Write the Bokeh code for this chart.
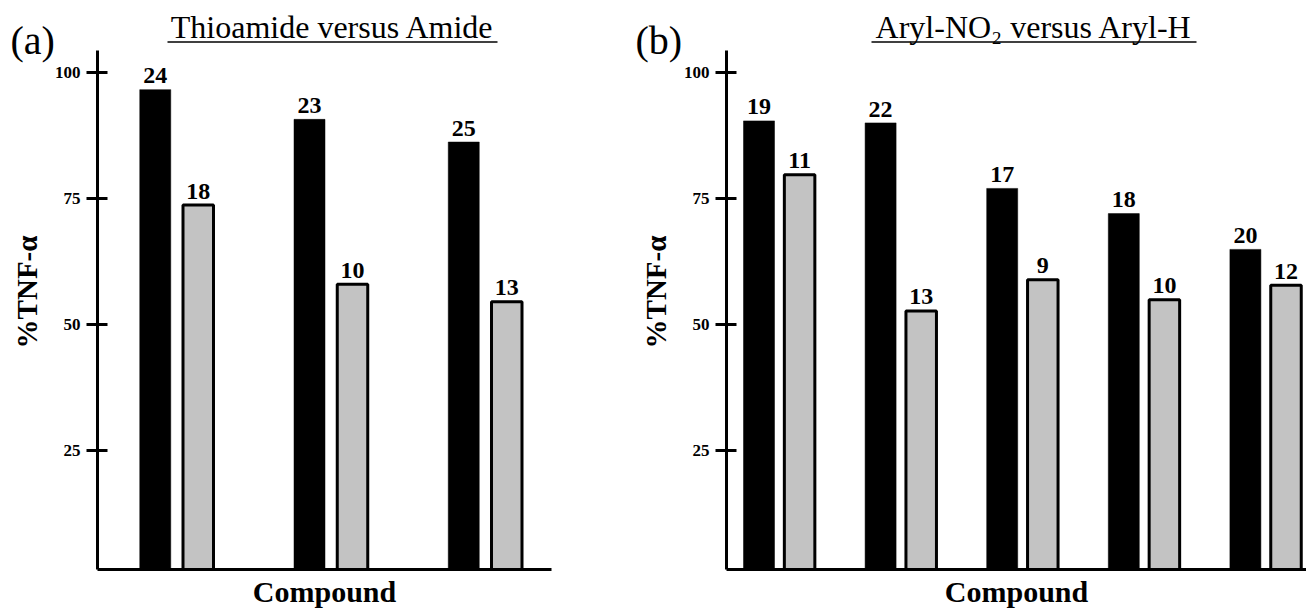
from bokeh.plotting import figure
from bokeh.layouts import row
from bokeh.models import Range1d, FixedTicker
from bokeh.embed import file_html
from bokeh.resources import INLINE
from bokeh.core.properties import value

# ---------------- data ----------------
a_groups = [1, 2, 3]
a_thioamide_ids = ["24", "23", "25"]
a_thioamide_tnf = [96.6, 90.7, 86.2]
a_amide_ids = ["18", "10", "13"]
a_amide_tnf = [73.7, 58.0, 54.5]

b_groups = [1, 2, 3, 4, 5]
b_no2_ids = ["19", "22", "17", "18", "20"]
b_no2_tnf = [90.4, 90.0, 77.0, 72.0, 64.9]
b_h_ids = ["11", "13", "9", "10", "12"]
b_h_tnf = [79.7, 52.7, 58.9, 54.9, 57.8]

y_ticks = [25, 50, 75, 100]

# ---------------- style / layout ----------------
FONT = "Liberation Serif"
GRAY = "#c3c3c3"
H = 612
PXU_Y = 5.04      # pixels per % unit
Y100 = 72         # pixel row of the 100 tick
BASE_PX = 569     # pixel row of the x axis
TOP_PX = 50       # pixel row of the top of the y axis
LABEL_TOP_PX = 14 # sets the centre of the y-axis title
SHIFT = 0.35      # baseline compensation (fraction of font size)
TICK_IN = 10      # tick length inside the spine (px)
TICK_OUT = 11     # tick length outside the spine (px)


def yv(py):
    return 100 - (py - Y100) / PXU_Y


def build(groups, dark_vals, dark_ids, light_vals, light_ids, *, left_px, width,
          axis_px, first_px, step_px, dodge_px, dark_w_px, light_w_px,
          title, title_px, title_w_px, tag, tag_px, right_px):
    def xd(px):
        return 1 + (px - first_px) / step_px

    x_start = xd(left_px)
    x_end = xd(left_px + width)
    base = yv(BASE_PX)
    p = figure(width=width, height=H, x_range=Range1d(x_start, x_end),
               y_range=Range1d(yv(H), yv(0)), output_backend="svg",
               toolbar_location=None, min_border=0)
    p.grid.visible = False
    p.outline_line_color = None
    p.background_fill_color = "white"
    p.border_fill_color = "white"

    dodge = dodge_px / step_px
    dark_x = [g - dodge for g in groups]
    light_x = [g + dodge for g in groups]
    p.vbar(x=dark_x, top=dark_vals, bottom=base, width=dark_w_px / step_px,
           fill_color="black", line_color="black", line_width=0.5)
    p.vbar(x=light_x, top=light_vals, bottom=base, width=light_w_px / step_px,
           fill_color=GRAY, line_color="black", line_width=3)

    lab_fs = 24
    gap = (5.5 + SHIFT * lab_fs) / PXU_Y
    for xs, vals, ids in ((dark_x, dark_vals, dark_ids), (light_x, light_vals, light_ids)):
        p.text(x=xs, y=[v + gap for v in vals], text=ids,
               text_align="center", text_baseline="alphabetic",
               text_font=value(FONT), text_font_size=f"{lab_fs}px",
               text_font_style="bold", text_color="black")

    # title with underline
    p.text(x=[xd(title_px)], y=[yv(38 - SHIFT * 32)], text=[title], text_align="center",
           text_baseline="alphabetic", text_font=value(FONT), text_font_size="32px",
           text_color="black")
    p.segment(x0=[xd(title_px - title_w_px / 2)], y0=[yv(41.5)],
              x1=[xd(title_px + title_w_px / 2)], y1=[yv(41.5)],
              line_color="black", line_width=1.5)

    # panel tag
    p.text(x=[xd(tag_px)], y=[yv(54 - SHIFT * 40)], text=[tag], text_align="left",
           text_baseline="alphabetic", text_font=value(FONT), text_font_size="40px",
           text_color="black")

    ax_x = xd(axis_px)
    # y axis spine
    p.segment(x0=[ax_x], y0=[base], x1=[ax_x], y1=[yv(TOP_PX)],
              line_color="black", line_width=3)

    ya = p.yaxis[0]
    # axis anchored TICK_IN px right of the spine so its ticks cross the spine
    ya.fixed_location = xd(axis_px + TICK_IN)
    ya.ticker = FixedTicker(ticks=y_ticks)
    ya.bounds = (base, yv(LABEL_TOP_PX))
    ya.axis_line_color = None
    ya.major_tick_in = 0
    ya.major_tick_out = TICK_IN + TICK_OUT
    ya.major_tick_line_width = 3
    ya.major_tick_line_color = "black"
    ya.minor_tick_line_color = None
    ya.major_label_text_font = FONT
    ya.major_label_text_font_size = "17px"
    ya.major_label_text_font_style = "bold"
    ya.major_label_text_color = "black"
    ya.major_label_standoff = 6
    ya.axis_label = "%TNF-α"
    ya.axis_label_text_font = FONT
    ya.axis_label_text_font_size = "29px"
    ya.axis_label_text_font_style = "bold"
    ya.axis_label_text_color = "black"
    ya.axis_label_standoff = 9

    xa = p.xaxis[0]
    xa.fixed_location = base
    xa.ticker = FixedTicker(ticks=[])
    xa.bounds = (ax_x, xd(right_px))
    xa.axis_line_width = 3
    xa.axis_line_color = "black"
    xa.major_tick_in = 0
    xa.major_tick_out = 0
    xa.minor_tick_line_color = None
    xa.major_label_standoff = 0
    xa.axis_label = "Compound"
    xa.axis_label_text_font = FONT
    xa.axis_label_text_font_size = "30px"
    xa.axis_label_text_font_style = "bold"
    xa.axis_label_text_color = "black"
    xa.axis_label_standoff = 5
    return p


pa = build(a_groups, a_thioamide_tnf, a_thioamide_ids, a_amide_tnf, a_amide_ids,
           left_px=0, width=560, axis_px=97, first_px=176.25, step_px=154.25,
           dodge_px=21.5, dark_w_px=31, light_w_px=30.5,
           title="Thioamide versus Amide", title_px=332, title_w_px=330,
           tag="(a)", tag_px=10, right_px=551)

pb = build(b_groups, b_no2_tnf, b_no2_ids, b_h_tnf, b_h_ids,
           left_px=560, width=746, axis_px=726, first_px=778.8, step_px=121.6,
           dodge_px=20.3, dark_w_px=31, light_w_px=30.5,
           title="Aryl-NO₂ versus Aryl-H", title_px=1033.5, title_w_px=325,
           tag="(b)", tag_px=635, right_px=1306)

layout = row(pa, pb)
open("out.html", "w").write(file_html(layout, INLINE))
